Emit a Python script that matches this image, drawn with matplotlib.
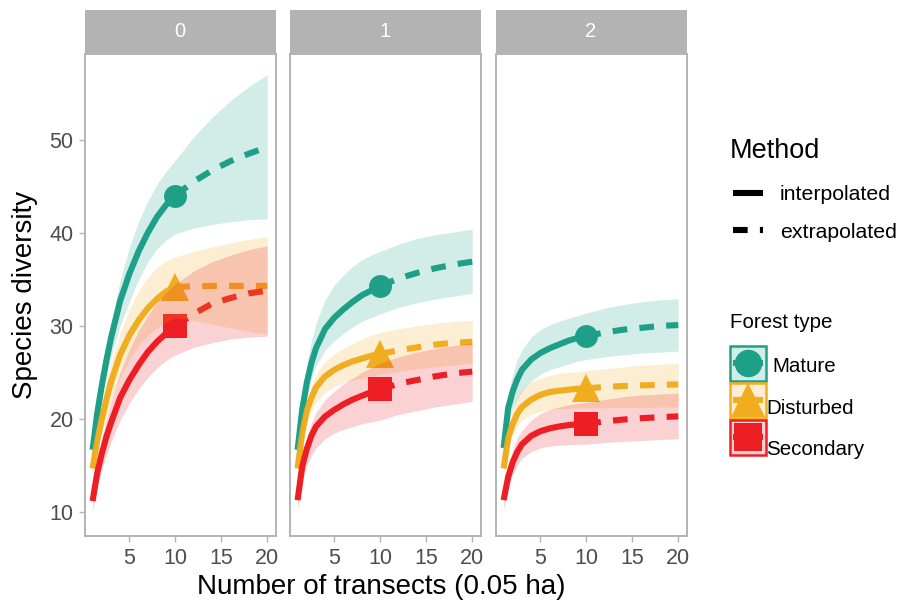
import matplotlib
matplotlib.use("Agg")
import matplotlib.pyplot as plt
from matplotlib.patches import Rectangle
from matplotlib.lines import Line2D

plt.rcParams['font.family'] = ['Liberation Sans', 'DejaVu Sans']

# ---------------- data ----------------
orders = ['0', '1', '2']
sites = ['Mature', 'Disturbed', 'Secondary']
site_colors = ['#1EA088', '#F0AD1F', '#EE1E25']
site_markers = ['o', '^', 's']
site_msize = [16.5, 20.5, 17.0]
method_labels = ['interpolated', 'extrapolated']
x_ticks = [5, 10, 15, 20]
y_ticks = [10, 20, 30, 40, 50]

t = [1, 1.5, 2, 2.5, 3, 4, 5, 6, 7, 8, 9, 10, 12, 14, 16, 18, 20]
t_obs = 10

# q = 0
mature_q0    = [16.7, 20.6, 23.6, 26.3, 28.7, 32.7, 35.6, 38.0, 40.0, 41.7, 43.0, 44.0, 45.5, 46.7, 47.7, 48.5, 49.2]
mature_q0_lo = [16.0, 19.6, 22.3, 24.6, 26.7, 30.0, 32.6, 35.0, 36.9, 38.3, 39.2, 39.9, 40.5, 40.9, 41.2, 41.4, 41.5]
mature_q0_hi = [17.3, 21.5, 24.8, 27.7, 30.3, 34.9, 38.4, 41.2, 43.4, 45.2, 46.6, 47.8, 50.3, 52.4, 54.2, 55.7, 57.0]
disturbed_q0    = [14.7, 17.7, 20.0, 22.1, 24.0, 26.9, 29.0, 30.6, 31.9, 32.9, 33.7, 34.2, 34.25, 34.3, 34.3, 34.3, 34.3]
disturbed_q0_lo = [14.0, 16.8, 18.6, 20.4, 22.0, 24.5, 26.4, 27.9, 29.0, 29.8, 30.4, 30.9, 30.6, 30.2, 29.8, 29.4, 29.1]
disturbed_q0_hi = [15.3, 18.7, 21.5, 23.9, 26.0, 29.3, 31.8, 33.7, 35.2, 36.3, 37.0, 37.4, 38.0, 38.5, 38.9, 39.3, 39.6]
secondary_q0    = [11.2, 14.2, 16.3, 18.1, 19.6, 22.3, 24.2, 25.8, 27.2, 28.3, 29.2, 30.0, 31.3, 32.4, 33.0, 33.5, 33.8]
secondary_q0_lo = [10.2, 12.8, 14.6, 16.1, 17.5, 19.9, 21.7, 23.2, 24.5, 25.5, 26.3, 26.9, 27.7, 28.2, 28.6, 28.8, 28.9]
secondary_q0_hi = [11.8, 15.2, 17.8, 20.0, 21.9, 25.0, 27.5, 29.5, 31.1, 32.5, 33.6, 34.5, 35.9, 36.9, 37.6, 38.2, 38.6]

# q = 1
mature_q1    = [16.7, 21.0, 23.9, 26.0, 27.6, 29.7, 30.9, 31.8, 32.6, 33.3, 33.8, 34.3, 35.1, 35.7, 36.2, 36.6, 36.9]
mature_q1_lo = [16.2, 19.9, 22.5, 24.3, 25.7, 27.4, 28.4, 29.2, 29.9, 30.5, 30.9, 31.3, 32.0, 32.5, 32.9, 33.2, 33.5]
mature_q1_hi = [17.4, 22.6, 26.0, 28.4, 30.3, 32.8, 34.4, 35.5, 36.4, 37.1, 37.6, 38.0, 38.8, 39.4, 39.8, 40.1, 40.4]
disturbed_q1    = [14.7, 18.5, 20.9, 22.3, 23.4, 24.6, 25.3, 25.8, 26.2, 26.5, 26.8, 27.0, 27.4, 27.7, 28.0, 28.2, 28.3]
disturbed_q1_lo = [14.2, 17.6, 19.7, 20.9, 21.8, 22.9, 23.5, 23.9, 24.2, 24.4, 24.6, 24.8, 25.1, 25.4, 25.6, 25.8, 26.0]
disturbed_q1_hi = [15.2, 19.4, 22.0, 23.6, 24.8, 26.2, 27.0, 27.6, 28.1, 28.6, 29.0, 29.3, 29.7, 30.0, 30.3, 30.5, 30.6]
secondary_q1    = [11.3, 14.9, 16.8, 18.2, 19.2, 20.3, 21.0, 21.6, 22.1, 22.5, 22.9, 23.2, 23.8, 24.2, 24.6, 24.9, 25.1]
secondary_q1_lo = [10.3, 13.4, 15.0, 16.1, 16.9, 17.9, 18.5, 18.9, 19.2, 19.5, 19.7, 19.9, 20.5, 20.9, 21.3, 21.6, 21.9]
secondary_q1_hi = [11.8, 15.8, 18.0, 19.6, 20.7, 22.1, 23.0, 23.8, 24.4, 25.0, 25.5, 26.0, 26.7, 27.2, 27.6, 27.9, 28.2]

# q = 2
mature_q2    = [16.9, 21.2, 23.0, 24.3, 25.3, 26.4, 27.1, 27.6, 28.0, 28.4, 28.7, 28.9, 29.3, 29.6, 29.8, 30.0, 30.1]
mature_q2_lo = [16.4, 19.6, 21.2, 22.2, 23.0, 24.1, 24.8, 25.3, 25.6, 25.9, 26.2, 26.4, 26.7, 26.9, 27.1, 27.2, 27.3]
mature_q2_hi = [17.4, 22.6, 24.9, 26.4, 27.4, 28.8, 29.6, 30.1, 30.5, 30.8, 31.1, 31.4, 31.9, 32.3, 32.6, 32.8, 32.9]
disturbed_q2    = [14.7, 18.0, 19.5, 20.6, 21.3, 22.1, 22.6, 22.9, 23.05, 23.15, 23.25, 23.3, 23.45, 23.55, 23.62, 23.68, 23.72]
disturbed_q2_lo = [14.2, 16.9, 18.4, 19.3, 19.9, 20.5, 20.8, 21.0, 21.1, 21.15, 21.2, 21.2, 21.2, 21.25, 21.25, 21.3, 21.3]
disturbed_q2_hi = [15.2, 19.0, 21.2, 22.4, 23.2, 24.0, 24.4, 24.7, 24.9, 25.0, 25.1, 25.2, 25.4, 25.6, 25.8, 25.9, 26.0]
secondary_q2    = [11.3, 13.8, 15.4, 16.5, 17.3, 18.2, 18.7, 19.0, 19.2, 19.35, 19.45, 19.5, 19.75, 19.95, 20.1, 20.2, 20.3]
secondary_q2_lo = [10.3, 12.7, 14.1, 15.1, 15.8, 16.5, 16.9, 17.1, 17.2, 17.25, 17.3, 17.3, 17.5, 17.6, 17.7, 17.8, 17.9]
secondary_q2_hi = [11.8, 14.9, 16.8, 18.0, 18.8, 19.9, 20.6, 21.0, 21.3, 21.5, 21.7, 21.8, 22.1, 22.4, 22.6, 22.7, 22.8]

panels = [
    [(mature_q0, mature_q0_lo, mature_q0_hi),
     (disturbed_q0, disturbed_q0_lo, disturbed_q0_hi),
     (secondary_q0, secondary_q0_lo, secondary_q0_hi)],
    [(mature_q1, mature_q1_lo, mature_q1_hi),
     (disturbed_q1, disturbed_q1_lo, disturbed_q1_hi),
     (secondary_q1, secondary_q1_lo, secondary_q1_hi)],
    [(mature_q2, mature_q2_lo, mature_q2_hi),
     (disturbed_q2, disturbed_q2_lo, disturbed_q2_hi),
     (secondary_q2, secondary_q2_lo, secondary_q2_hi)],
]

# ---------------- figure ----------------
W, H = 898, 604
fig = plt.figure(figsize=(W / 100, H / 100), dpi=100)

BORDER = '#B3B3B3'
TICKTXT = '#4D4D4D'
LW = 4.4
DASH = (0, (2.4, 2.0))

panel_left = [84.5, 289.5, 495.5]
panel_w = 191
panel_top, panel_bot = 54, 536
strip_top, strip_bot = 10, 52.5

k_obs = t.index(t_obs)

for i, q in enumerate(orders):
    ax = fig.add_axes([panel_left[i] / W, 1 - panel_bot / H, panel_w / W, (panel_bot - panel_top) / H])
    for j, (est, lo, hi) in enumerate(panels[i]):
        c = site_colors[j]
        ax.plot([t_obs], [est[k_obs]], marker=site_markers[j], ms=site_msize[j],
                color=c, mew=0, ls='none', zorder=2)
        ax.plot(t[:k_obs + 1], est[:k_obs + 1], color=c, lw=LW, solid_capstyle='butt',
                solid_joinstyle='round', zorder=3)
        ax.plot(t[k_obs:], est[k_obs:], color=c, lw=LW, ls=DASH,
                dash_capstyle='butt', zorder=3)
    for j, (est, lo, hi) in enumerate(panels[i]):
        ax.fill_between(t, lo, hi, color=site_colors[j], alpha=0.2, lw=0, zorder=4)

    ax.set_xlim(0.12, 20.9)
    ax.set_ylim(7.45, 59.2)
    ax.set_xticks(x_ticks)
    ax.set_xticklabels([str(v) for v in x_ticks])
    ax.set_yticks(y_ticks)
    if i == 0:
        ax.set_yticklabels([str(v) for v in y_ticks])
        ax.tick_params(axis='y', length=4.3, width=1.0, color=BORDER, labelsize=15.5,
                       labelcolor=TICKTXT, pad=3.5)
    else:
        ax.tick_params(axis='y', left=False, labelleft=False)
    ax.tick_params(axis='x', length=4.0, width=1.0, color=BORDER, labelsize=15.5,
                   labelcolor=TICKTXT, pad=5)
    for s in ax.spines.values():
        s.set_color(BORDER)
        s.set_linewidth(1.4)
    ax.set_facecolor('white')

    # strip
    sax = fig.add_axes([panel_left[i] / W, 1 - strip_bot / H, panel_w / W, (strip_bot - strip_top) / H])
    sax.set_facecolor(BORDER)
    sax.set_xticks([])
    sax.set_yticks([])
    for s in sax.spines.values():
        s.set_visible(False)
    sax.text(0.5, 0.5, q, ha='center', va='center', color='white', fontsize=14.5,
             transform=sax.transAxes)

# ---------------- overlay (titles + legends) in pixel coordinates ----------------
lax = fig.add_axes([0, 0, 1, 1], zorder=10)
lax.set_xlim(0, W)
lax.set_ylim(H, 0)
lax.axis('off')
lax.patch.set_alpha(0)

lax.text(381, 587, 'Number of transects (0.05 ha)', ha='center', va='center', fontsize=20)
lax.text(25, 295, 'Species diversity', ha='center', va='center', rotation=90, fontsize=20)

# Method legend
lax.text(730, 157.5, 'Method', ha='left', va='baseline', fontsize=19.5)
method_y = [192.5, 230]
method_ls = ['-', DASH]
method_baseline = [200.5, 237.5]
for k, lab in enumerate(method_labels):
    lax.add_line(Line2D([733, 763], [method_y[k]] * 2, color='black', lw=LW, ls=method_ls[k],
                        solid_capstyle='butt', dash_capstyle='butt'))
    lax.text(780, method_baseline[k], lab, ha='left', va='baseline', fontsize=15.3)

# Forest type legend
lax.text(730, 328.5, 'Forest type', ha='left', va='baseline', fontsize=14.8)
box_top = [345.5, 382.5, 419.5]
box_size = 35.5
label_x = [772, 766, 766]
label_base = [371.5, 413.5, 455]
for j, site in enumerate(sites):
    c = site_colors[j]
    y0 = box_top[j]
    cy = y0 + box_size / 2
    clip = Rectangle((730, y0), box_size, box_size, transform=lax.transData)
    ln = Line2D([733, 763], [cy, cy], color=c, lw=LW, solid_capstyle='butt')
    lax.add_line(ln)
    mk = Line2D([748], [cy], marker=site_markers[j], ms=site_msize[j] * 1.2, color=c, mew=0, ls='none')
    lax.add_line(mk)
    mk.set_clip_path(clip)
    lax.add_patch(Rectangle((730, y0), box_size, box_size, facecolor=c, alpha=0.2, lw=0))
    lax.add_patch(Rectangle((730, y0), box_size, box_size, facecolor='none', edgecolor=c, lw=1.8))
    lax.text(label_x[j], label_base[j], site, ha='left', va='baseline', fontsize=14.8)

fig.savefig('out.png', dpi=100)
